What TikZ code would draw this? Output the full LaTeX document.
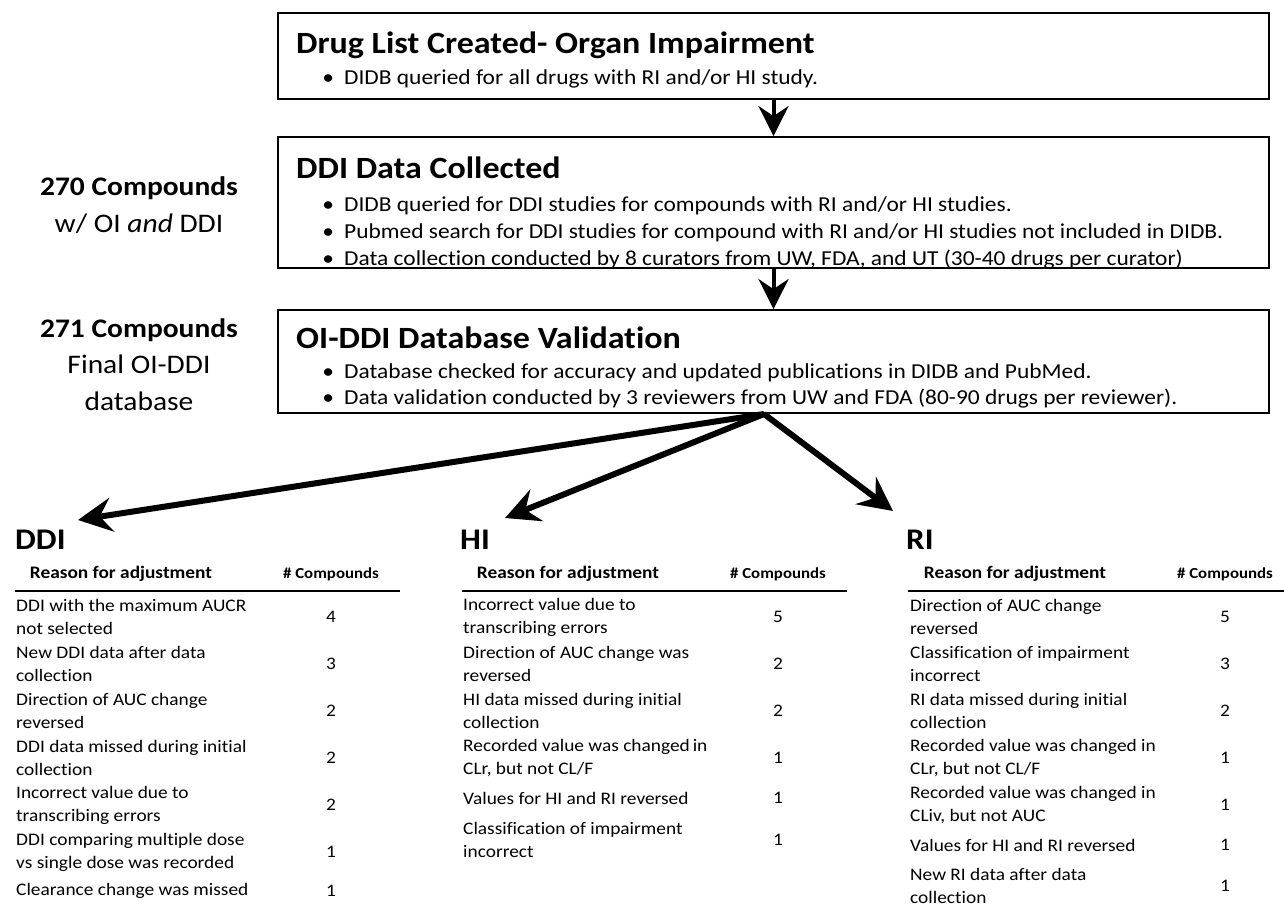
\documentclass[tikz,border=0pt]{standalone}
\usepackage{fontspec}
\setmainfont{Carlito}[FakeStretch=1.1,Ligatures=NoCommon]
\usetikzlibrary{arrows.meta}
\newcommand{\mybul}{\makebox[0pt][c]{\textbullet}\hspace{16pt}}
\begin{document}
\begin{tikzpicture}[x=1pt,y=-1pt,
  box/.style={draw, line width=1.8pt, inner sep=0},
  ttl/.style={anchor=base west, inner sep=0, font=\bfseries\fontsize{30.9}{36}\selectfont},
  blt/.style={anchor=base west, inner sep=0, font=\fontsize{21.3}{26}\selectfont},
  side/.style={anchor=base, inner sep=0, font=\fontsize{26.8}{32}\selectfont},
  varrow/.style={line width=4pt, -{Stealth[length=30pt,width=30pt,inset=10pt]}},
  darrow/.style={line width=6pt, -{Stealth[length=34pt,width=34pt,inset=12pt]}},
  tabttl/.style={anchor=base west, inner sep=0, font=\bfseries\fontsize{30}{34}\selectfont},
  hdr/.style={inner sep=0, font=\bfseries\fontsize{17.6}{21}\selectfont},
  hdrn/.style={inner sep=0, font=\bfseries\fontsize{15.3}{18}\selectfont},
  cell/.style={anchor=west, inner sep=0, align=left, font=\fontsize{17.6}{23}\selectfont},
  num/.style={inner sep=0, font=\fontsize{17.6}{23}\selectfont},
  rule/.style={line width=1.8pt}
]
\useasboundingbox (0,0) rectangle (1284,914);

% flow boxes
\node[box, minimum width=991pt, minimum height=86pt] (b1) at (773.5,56) {};
\node[box, minimum width=991pt, minimum height=131pt] (b2) at (773.5,202.5) {};
\node[box, minimum width=991pt, minimum height=103pt] (b3) at (773.5,361.5) {};

\node[ttl] (t1) at (296,53) {Drug List Created- Organ Impairment};
\node[blt] (t1a) at (328,84) {\mybul DIDB queried for all drugs with RI and/or HI study.};

\node[ttl] (t2) at (296,178) {DDI Data Collected};
\node[blt] (t2a) at (328,211) {\mybul DIDB queried for DDI studies for compounds with RI and/or HI studies.};
\node[blt] (t2b) at (328,238) {\mybul Pubmed search for DDI studies for compound with RI and/or HI studies not included in DIDB.};
\node[blt] (t2c) at (328,265) {\mybul Data collection conducted by 8 curators from UW, FDA, and UT (30-40 drugs per curator)};

\node[ttl] (t3) at (296,348) {OI-DDI Database Validation};
\node[blt] (t3a) at (328,378) {\mybul Database checked for accuracy and updated publications in DIDB and PubMed.};
\node[blt] (t3b) at (328,404) {\mybul Data validation conducted by 3 reviewers from UW and FDA (80-90 drugs per reviewer).};

% side labels
\node[side] (s1a) at (139,195) {\textbf{270 Compounds}};
\node[side] (s1b) at (139,232) {w/ OI \textit{and} DDI};
\node[side] (s2a) at (139,337) {\textbf{271 Compounds}};
\node[side] (s2b) at (139,373) {Final OI-DDI};
\node[side] (s2c) at (139,410) {database};

% vertical arrows
\draw[varrow] (b1.south) -- (b2.north);
\draw[varrow] (b2.south) -- (b3.north);

% diagonal arrows
\coordinate (split) at (764,414);
\coordinate (aDDI) at (78,520);
\coordinate (aHI) at (505,518);
\coordinate (aRI) at (893,511);
\draw[darrow] (split) -- (aDDI);
\draw[darrow] (split) -- (aHI);
\draw[darrow] (split) -- (aRI);

% ---- DDI table
\node[tabttl] (ddi) at (15,549) {DDI};
\node[hdr] (ddih1) at (121,574) {Reason for adjustment};
\node[hdrn] (ddih2) at (331,574) {\# Compounds};
\draw[rule] (15,591) -- (400,591);
\node[cell] (d1) at (16,617) {DDI with the maximum AUCR\\not selected};
\node[num] (d1n) at (331,617) {4};
\node[cell] (d2) at (16,664) {New DDI data after data\\collection};
\node[num] (d2n) at (331,664) {3};
\node[cell] (d3) at (16,711) {Direction of AUC change\\reversed};
\node[num] (d3n) at (331,711) {2};
\node[cell] (d4) at (16,758) {DDI data missed during initial\\collection};
\node[num] (d4n) at (331,758) {2};
\node[cell] (d5) at (16,805) {Incorrect value due to\\transcribing errors};
\node[num] (d5n) at (331,805) {2};
\node[cell] (d6) at (16,852) {DDI comparing multiple dose\\vs single dose was recorded};
\node[num] (d6n) at (331,852) {1};
\node[cell] (d7) at (16,891) {Clearance change was missed};
\node[num] (d7n) at (331,891) {1};

% ---- HI table
\node[tabttl] (hi) at (460,549) {HI};
\node[hdr] (hih1) at (568,574) {Reason for adjustment};
\node[hdrn] (hih2) at (778,574) {\# Compounds};
\draw[rule] (462,591) -- (847,591);
\node[cell] (h1) at (463,617) {Incorrect value due to\\transcribing errors};
\node[num] (h1n) at (778,617) {5};
\node[cell] (h2) at (463,664) {Direction of AUC change was\\reversed};
\node[num] (h2n) at (778,664) {2};
\node[cell] (h3) at (463,711) {HI data missed during initial\\collection};
\node[num] (h3n) at (778,711) {2};
\node[cell] (h4) at (463,758) {Recorded value was changed\,in\\CLr, but not CL/F};
\node[num] (h4n) at (778,758) {1};
\node[cell] (h5) at (463,798) {Values for HI and RI reversed};
\node[num] (h5n) at (778,798) {1};
\node[cell] (h6) at (463,840) {Classification of impairment\\incorrect};
\node[num] (h6n) at (778,840) {1};

% ---- RI table
\node[tabttl] (ri) at (906,549) {RI};
\node[hdr] (rih1) at (1015,574) {Reason for adjustment};
\node[hdrn] (rih2) at (1225,574) {\# Compounds};
\draw[rule] (908,591) -- (1284,591);
\node[cell] (r1) at (910,617) {Direction of AUC change\\reversed};
\node[num] (r1n) at (1225,617) {5};
\node[cell] (r2) at (910,664) {Classification of impairment\\incorrect};
\node[num] (r2n) at (1225,664) {3};
\node[cell] (r3) at (910,711) {RI data missed during initial\\collection};
\node[num] (r3n) at (1225,711) {2};
\node[cell] (r4) at (910,758) {Recorded value was changed in\\CLr, but not CL/F};
\node[num] (r4n) at (1225,758) {1};
\node[cell] (r5) at (910,805) {Recorded value was changed in\\CLiv, but not AUC};
\node[num] (r5n) at (1225,805) {1};
\node[cell] (r6) at (910,845) {Values for HI and RI reversed};
\node[num] (r6n) at (1225,845) {1};
\node[cell] (r7) at (910,886) {New RI data after data\\collection};
\node[num] (r7n) at (1225,886) {1};
\end{tikzpicture}
\end{document}
